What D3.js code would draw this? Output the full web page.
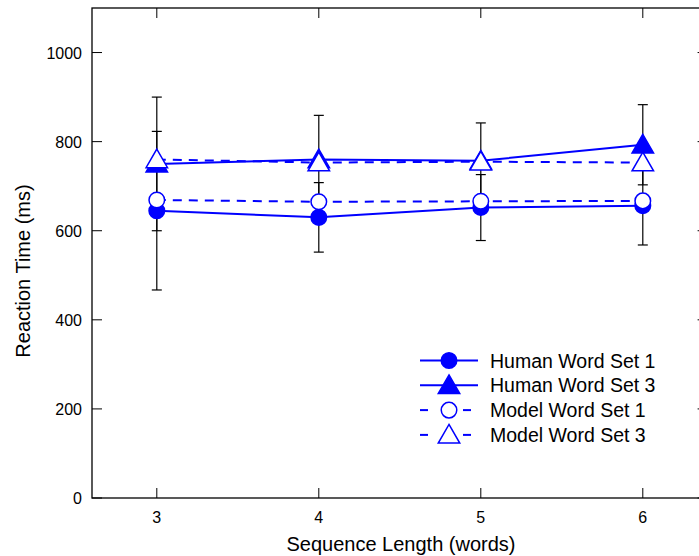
<!DOCTYPE html>
<html lang="en">
<head>
    <meta charset="UTF-8">
    <title>Reaction Time by Sequence Length</title>
    <script src="https://d3js.org/d3.v7.min.js"></script>
    <style>
        body { margin: 0; background: #fff; }
        svg text { font-family: "Liberation Sans", Arial, sans-serif; fill: #000; }
        .tick-label { font-size: 16px; }
        .axis-title { font-size: 20px; }
        .legend { font-size: 19.5px; }
    </style>
</head>
<body>
    <div id="chart"></div>

    <script>
        // Data
        const seqLengths = [3, 4, 5, 6];
        const humanSet1 = [645, 630, 652, 656];
        const humanSet1Err = [178, 78, 74, 88];
        const humanSet3 = [750, 760, 757, 793];
        const humanSet3Err = [150, 99, 85, 90];
        const modelSet1 = [669, 665, 666, 667];
        const modelSet3 = [760, 753, 755, 753];
        const yTicks = [0, 200, 400, 600, 800, 1000];

        const W = 699, H = 556;
        const margin = { top: 8, left: 92, bottom: 58 };

        const svg = d3.select("#chart").append("svg")
            .attr("width", W)
            .attr("height", H);

        const x = d3.scaleLinear().domain([2.6, 6.4]).range([margin.left, margin.left + 3.8 * 162]);
        const y = d3.scaleLinear().domain([0, 1100]).range([H - margin.bottom, margin.top]);

        const x0 = x(2.6), x1 = x(6.4), y0 = y(0), y1 = y(1100);

        // frame
        svg.append("rect")
            .attr("x", x0).attr("y", y1)
            .attr("width", x1 - x0).attr("height", y0 - y1)
            .attr("fill", "none").attr("stroke", "#000").attr("stroke-width", 1.3);

        // y ticks (inward, both sides)
        yTicks.forEach(t => {
            svg.append("line").attr("x1", x0).attr("x2", x0 + 10)
                .attr("y1", y(t)).attr("y2", y(t)).attr("stroke", "#000");
            svg.append("line").attr("x1", x1).attr("x2", x1 - 10)
                .attr("y1", y(t)).attr("y2", y(t)).attr("stroke", "#000");
            svg.append("text").attr("class", "tick-label")
                .attr("x", x0 - 10).attr("y", y(t) + 6)
                .attr("text-anchor", "end").text(t);
        });

        // x ticks (inward, top and bottom)
        seqLengths.forEach(t => {
            svg.append("line").attr("x1", x(t)).attr("x2", x(t))
                .attr("y1", y0).attr("y2", y0 - 10).attr("stroke", "#000");
            svg.append("line").attr("x1", x(t)).attr("x2", x(t))
                .attr("y1", y1).attr("y2", y1 + 10).attr("stroke", "#000");
            svg.append("text").attr("class", "tick-label")
                .attr("x", x(t)).attr("y", y0 + 25)
                .attr("text-anchor", "middle").text(t);
        });

        // axis titles
        svg.append("text").attr("class", "axis-title")
            .attr("x", 401).attr("y", H - 5)
            .attr("text-anchor", "middle").text("Sequence Length (words)");
        svg.append("text").attr("class", "axis-title")
            .attr("transform", "translate(30, 271) rotate(-90)")
            .attr("text-anchor", "middle").text("Reaction Time (ms)");

        const blue = "#0000ff";
        const line = d3.line().x((d, i) => x(seqLengths[i])).y(d => y(d));

        const series = [
            { name: "Human Word Set 1", values: humanSet1, err: humanSet1Err, dash: null, shape: "circle", filled: true },
            { name: "Human Word Set 3", values: humanSet3, err: humanSet3Err, dash: null, shape: "triangle", filled: true },
            { name: "Model Word Set 1", values: modelSet1, err: null, dash: "9,7", shape: "circle", filled: false },
            { name: "Model Word Set 3", values: modelSet3, err: null, dash: "9,7", shape: "triangle", filled: false }
        ];

        const symbolPath = shape => shape === "circle"
            ? d3.symbol().type(d3.symbolCircle).size(190)()
            : d3.symbol().type(d3.symbolTriangle).size(200)();

        // error bars
        series.filter(s => s.err).forEach(s => {
            s.values.forEach((v, i) => {
                const cx = x(seqLengths[i]);
                const g = svg.append("g").attr("stroke", "#000").attr("stroke-width", 1.2);
                g.append("line").attr("x1", cx).attr("x2", cx)
                    .attr("y1", y(v - s.err[i])).attr("y2", y(v + s.err[i]));
                [v - s.err[i], v + s.err[i]].forEach(e => {
                    g.append("line").attr("x1", cx - 5).attr("x2", cx + 5)
                        .attr("y1", y(e)).attr("y2", y(e));
                });
            });
        });

        // lines
        series.forEach(s => {
            svg.append("path").datum(s.values)
                .attr("d", line)
                .attr("fill", "none")
                .attr("stroke", blue)
                .attr("stroke-width", 2)
                .attr("stroke-dasharray", s.dash);
        });

        // markers
        series.forEach(s => {
            svg.selectAll(null).data(s.values).enter()
                .append("path")
                .attr("d", symbolPath(s.shape))
                .attr("transform", (d, i) => `translate(${x(seqLengths[i])},${y(d) + (s.shape === "triangle" ? 2 : 0)})`)
                .attr("fill", s.filled ? blue : "#fff")
                .attr("stroke", blue)
                .attr("stroke-width", 1.5);
        });

        // legend
        const legend = svg.append("g").attr("transform", "translate(420, 360.5)");
        series.forEach((s, i) => {
            const ly = i * 24.8;
            if (s.dash) {
                legend.append("line").attr("x1", 0).attr("x2", 8).attr("y1", ly).attr("y2", ly)
                    .attr("stroke", blue).attr("stroke-width", 2);
                legend.append("line").attr("x1", 43).attr("x2", 51).attr("y1", ly).attr("y2", ly)
                    .attr("stroke", blue).attr("stroke-width", 2);
            } else {
                legend.append("line").attr("x1", 0).attr("x2", 58).attr("y1", ly).attr("y2", ly)
                    .attr("stroke", blue).attr("stroke-width", 2);
            }
            legend.append("path")
                .attr("d", symbolPath(s.shape))
                .attr("transform", `translate(29,${ly + (s.shape === "triangle" ? 2 : 0)})`)
                .attr("fill", s.filled ? blue : "#fff")
                .attr("stroke", blue)
                .attr("stroke-width", 1.5);
            legend.append("text").attr("class", "legend")
                .attr("x", 70).attr("y", ly + 7)
                .text(s.name);
        });
    </script>
</body>
</html>
